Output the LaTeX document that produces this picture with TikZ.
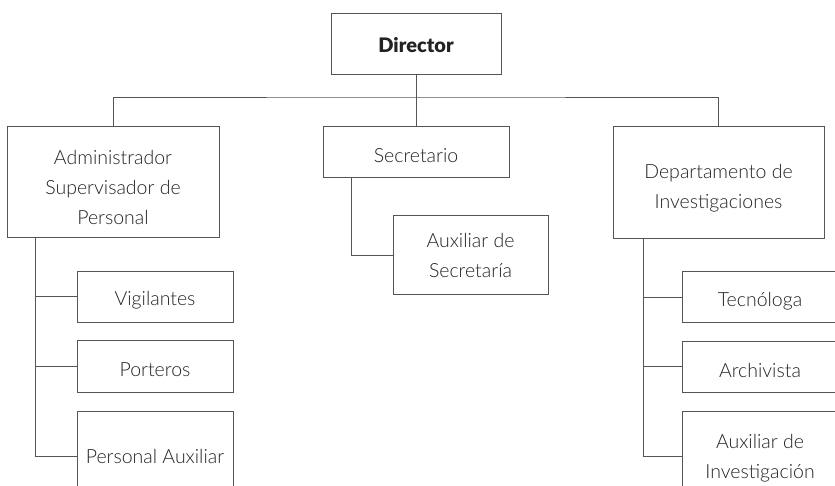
\documentclass[tikz,border=0pt]{standalone}
\usepackage{fontspec}
\setmainfont{Lato}[UprightFont=* Light, BoldFont=* Black]
\definecolor{txt}{HTML}{222222}
\definecolor{ln}{HTML}{555555}
\newcommand{\myrise}[1]{\rule{0pt}{#1}}
\tikzset{
  box/.style={draw=ln, line width=0.8pt, rectangle, inner sep=2pt, align=center,
    text=txt, font=\fontsize{19.5}{30}\selectfont},
  conn/.style={draw=ln, line width=0.8pt},
}
\begin{document}
\begin{tikzpicture}[x=1pt,y=-1pt]
\useasboundingbox (0,0) rectangle (835,485);
\clip (0,0) rectangle (835,485);
\fill[white] (0,0) rectangle (835,485);
% top level
\node[box, minimum width=170, minimum height=61, font=\fontsize{20}{24}\selectfont\bfseries] (dir) at (416,43.5) {\myrise{19pt}Director};
\node[box, minimum width=212, minimum height=111] (admin) at (113,181.5) {\myrise{26.5pt}Administrador\\Supervisador de\\Personal};
\node[box, minimum width=186, minimum height=51] (sec) at (416,151.5) {\myrise{22pt}Secretario};
\node[box, minimum width=211, minimum height=112] (dept) at (718.5,182) {\myrise{26.5pt}Departamento de\\Investigaciones};
\node[box, minimum width=155, minimum height=79] (auxsec) at (470.5,255) {\myrise{16pt}Auxiliar de\\Secretaría};
% left children
\node[box, minimum width=156, minimum height=51] (vig) at (155,296.5) {\myrise{22pt}Vigilantes};
\node[box, minimum width=156, minimum height=52] (por) at (155,366) {\myrise{22pt}Porteros};
\node[box, minimum width=156, minimum height=90] (pa) at (155,456) {Personal Auxiliar};
% right children
\node[box, minimum width=156, minimum height=51] (tec) at (760,297) {\myrise{22pt}Tecnóloga};
\node[box, minimum width=156, minimum height=51] (arch) at (760,366.5) {\myrise{22pt}Archivista};
\node[box, minimum width=156, minimum height=90] (auxinv) at (760,456) {\myrise{18.5pt}Auxiliar de\\Investigación};
% connectors
\coordinate (bus) at (416,97);
\coordinate (spineL) at (35,0);
\coordinate (spineS) at (351,0);
\coordinate (spineR) at (643,0);
\draw[conn] (dir.south) -- (bus);
\draw[conn] (admin.north) |- (bus) -| (dept.north);
\draw[conn] (bus) -- (sec.north);
\draw[conn] (admin.south -| spineL) |- (pa.west);
\draw[conn] (spineL |- vig.west) -- (vig.west);
\draw[conn] (spineL |- por.west) -- (por.west);
\draw[conn] (sec.south -| spineS) |- (auxsec.west);
\draw[conn] (dept.south -| spineR) |- (auxinv.west);
\draw[conn] (spineR |- tec.west) -- (tec.west);
\draw[conn] (spineR |- arch.west) -- (arch.west);
\end{tikzpicture}
\end{document}
